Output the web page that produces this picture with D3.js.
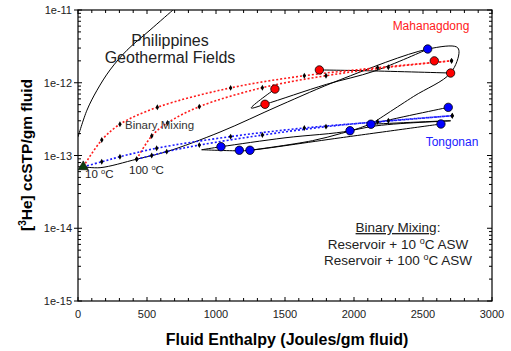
<!DOCTYPE html>
<html><head><meta charset="utf-8">
<script src="https://cdn.jsdelivr.net/npm/d3@7"></script>
<style>body{margin:0;background:#fff}svg{display:block}text{font-family:"Liberation Sans",Arial,sans-serif}</style>
</head><body><svg id="c" width="511" height="351"></svg>
<script>
// ---- data ----
const xTickLabels = [0,500,1000,1500,2000,2500,3000];
const yTickLabels = ["1e-15","1e-14","1e-13","1e-12","1e-11"];
const mahanagdong = [[1427,8.2e-13],[1355,5.06e-13],[1749,1.5e-12],[2582,2.0e-12],[2700,1.36e-12]];
const tongonan = [[2534,2.91e-12],[2683,4.59e-13],[2630,2.71e-13],[2123,2.69e-13],[1971,2.19e-13],[1036,1.32e-13],[1169,1.18e-13],[1246,1.18e-13]];
const asw10 = [38,7.0e-14];
const red10 = [[38,7e-14],[172,1.63e-13],[304,2.69e-13],[575,4.6e-13],[1106,8.5e-13],[1640,1.25e-12],[2171,1.61e-12],[2707,2.0e-12]];
const red100 = [[425,8.9e-14],[534,1.85e-13],[648,2.8e-13],[879,4.69e-13],[1336,8.55e-13],[1797,1.25e-12],[2249,1.63e-12],[2707,2.0e-12]];
const blue10 = [[38,7e-14],[172,8.2e-14],[304,9.6e-14],[570,1.26e-13],[1106,1.82e-13],[1640,2.39e-13],[2171,2.9e-13],[2712,3.52e-13]];
const blue100 = [[425,8.9e-14],[534,1.0e-13],[643,1.13e-13],[879,1.39e-13],[1336,1.91e-13],[1797,2.49e-13],[2249,3.0e-13],[2712,3.52e-13]];
const envelope = [[0,1.8e-13],[65,4.2e-13],[138,7.9e-13],[232,1.5e-12],[355,2.8e-12],[522,5.3e-12],[688,1e-11]];
const pathA = [[38,7e-14],[160,6.8e-14],[425,8.9e-14],[643,1.13e-13],[1029,2.1e-13],[1464,4.9e-13],[1900,1.1e-12],[2534,2.9e-12],[2744,3.1e-12],[2761,2.67e-12],[2700,1.36e-12],[2430,6.45e-13],[2123,2.69e-13]];
const pathB = [[1427,8.2e-13],[1255,4.5e-13],[1355,5.06e-13],[1800,9.5e-13],[2150,1.45e-12],[2534,2.9e-12]];
const pathC = [[1749,1.5e-12],[2100,1.46e-12],[2700,1.36e-12]];
const pathT1 = [[896,1.2e-13],[1036,1.32e-13],[1500,1.75e-13],[1971,2.19e-13],[2123,2.69e-13],[2683,4.59e-13]];
const pathT2 = [[896,1.2e-13],[1169,1.16e-13],[1246,1.18e-13],[1900,1.75e-13],[2630,2.71e-13]];
const pathT3 = [[1246,1.18e-13],[1700,1.6e-13],[2123,2.5e-13],[2700,3.0e-13],[2123,2.69e-13]];

// ---- layout ----
const svg = d3.select("#c");
const L=78,R=492,T=10,B=301;
const x = d3.scaleLinear().domain([0,3000]).range([L,R]);
const y = d3.scaleLog().domain([1e-15,1e-11]).range([B,T]);

// x ticks (bottom & top, inward)
const xt = d3.range(0,3001,100);
svg.append("g").selectAll("line").data(xt).join("line")
  .attr("x1",d=>x(d)).attr("x2",d=>x(d)).attr("y1",B).attr("y2",d=>B-(d%500===0?4:3)).attr("stroke","#000");
svg.append("g").selectAll("line").data(xt).join("line")
  .attr("x1",d=>x(d)).attr("x2",d=>x(d)).attr("y1",T).attr("y2",d=>T+(d%500===0?4:3)).attr("stroke","#000");
svg.append("g").selectAll("text").data(xTickLabels).join("text")
  .attr("x",d=>x(d)).attr("y",B+17).attr("text-anchor","middle").attr("font-size",11).attr("fill","#222").text(d=>d);
// y ticks
const minors=[];
for(let e=-15;e<-11;e++) for(let m=2;m<=9;m++) minors.push(m*Math.pow(10,e));
const majors=[1e-15,1e-14,1e-13,1e-12,1e-11];
svg.append("g").selectAll("line").data(minors).join("line")
  .attr("x1",L).attr("x2",L+3).attr("y1",d=>y(d)).attr("y2",d=>y(d)).attr("stroke","#000");
svg.append("g").selectAll("line").data(majors).join("line")
  .attr("x1",L-4).attr("x2",L+4).attr("y1",d=>y(d)).attr("y2",d=>y(d)).attr("stroke","#000");
svg.append("g").selectAll("line").data(minors).join("line")
  .attr("x1",R).attr("x2",R-3).attr("y1",d=>y(d)).attr("y2",d=>y(d)).attr("stroke","#000");
svg.append("g").selectAll("line").data(majors).join("line")
  .attr("x1",R).attr("x2",R-5).attr("y1",d=>y(d)).attr("y2",d=>y(d)).attr("stroke","#000");
svg.append("g").selectAll("text").data(majors).join("text")
  .attr("x",L-6).attr("y",d=>y(d)+4).attr("text-anchor","end").attr("font-size",11).attr("fill","#222")
  .text((d,i)=>yTickLabels[i]);
// frame
svg.append("rect").attr("x",L).attr("y",T).attr("width",R-L).attr("height",B-T).attr("fill","none").attr("stroke","#000").attr("stroke-width",1.2);

// clip
svg.append("clipPath").attr("id","clip").append("rect").attr("x",L).attr("y",T).attr("width",R-L).attr("height",B-T);
const g = svg.append("g").attr("clip-path","url(#clip)");

// black trajectories
const smooth = d3.line().x(d=>x(d[0])).y(d=>y(d[1])).curve(d3.curveCatmullRom.alpha(0.5));
[envelope,pathA,pathB,pathC,pathT1,pathT2,pathT3].forEach(p=>{
  g.append("path").attr("d",smooth(p)).attr("fill","none").attr("stroke","#000").attr("stroke-width",1);
});
// mixing lines
[[red10,"#ff1a1a"],[red100,"#ff1a1a"],[blue10,"#1a1aff"],[blue100,"#1a1aff"]].forEach(([p,c])=>{
  g.append("path").attr("d",smooth(p)).attr("fill","none").attr("stroke",c).attr("stroke-width",1.6).attr("stroke-dasharray","2,2");
});
// small markers
const marks = [].concat(red10.slice(1),red100,blue10.slice(1),blue100);
g.append("g").selectAll("path").data(marks).join("path")
  .attr("transform",d=>`translate(${x(d[0])},${y(d[1])})`)
  .attr("d",d3.symbol(d3.symbolDiamond,10)).attr("fill","#000");
// triangle
g.append("path").attr("transform",`translate(${x(asw10[0])},${y(asw10[1])})`)
  .attr("d",d3.symbol(d3.symbolTriangle,45)).attr("fill","#0b3d0b").attr("stroke","#000").attr("stroke-width",0.6);
// circles
g.append("g").selectAll("circle").data(mahanagdong).join("circle")
  .attr("cx",d=>x(d[0])).attr("cy",d=>y(d[1])).attr("r",4.2).attr("fill","#ff0000").attr("stroke","#000").attr("stroke-width",0.8);
g.append("g").selectAll("circle").data(tongonan).join("circle")
  .attr("cx",d=>x(d[0])).attr("cy",d=>y(d[1])).attr("r",4.2).attr("fill","#0000ff").attr("stroke","#000").attr("stroke-width",0.8);

// text
const t=(tx,ty,o={})=>{const el=svg.append("text").attr("x",tx).attr("y",ty).attr("font-size",o.size||11)
  .attr("fill",o.fill||"#222").attr("text-anchor",o.anchor||"start"); if(o.bold) el.attr("font-weight","bold"); return el;};
t(170,46,{size:16,anchor:"middle"}).text("Philippines");
t(170,63,{size:16,anchor:"middle"}).text("Geothermal Fields");
t(431,30,{size:12,anchor:"middle",fill:"#ff2020"}).text("Mahanagdong");
t(452,146,{size:12,anchor:"middle",fill:"#2020ff"}).text("Tongonan");
t(125,129,{size:11.5,fill:"#333"}).text("Binary Mixing");
let e=t(85,178,{size:11.5}); e.append("tspan").text("10 "); e.append("tspan").attr("dy",-4).attr("font-size",7.5).text("o"); e.append("tspan").attr("dy",4).text("C");
e=t(129,174,{size:11.5}); e.append("tspan").text("100 "); e.append("tspan").attr("dy",-4).attr("font-size",7.5).text("o"); e.append("tspan").attr("dy",4).text("C");
e=t(398,232,{size:13.5,anchor:"middle"}); e.append("tspan").attr("text-decoration","underline").text("Binary Mixing"); e.append("tspan").text(":");
e=t(398,249,{size:13.5,anchor:"middle"}); e.append("tspan").text("Reservoir + 10 "); e.append("tspan").attr("dy",-5).attr("font-size",9).text("o"); e.append("tspan").attr("dy",5).text("C ASW");
e=t(398,265,{size:13.5,anchor:"middle"}); e.append("tspan").text("Reservoir + 100 "); e.append("tspan").attr("dy",-5).attr("font-size",9).text("o"); e.append("tspan").attr("dy",5).text("C ASW");
// axis titles
t(287,345,{size:16,anchor:"middle",bold:true,fill:"#000"}).text("Fluid Enthalpy (Joules/gm fluid)");
e=svg.append("text").attr("transform","translate(32,155) rotate(-90)").attr("text-anchor","middle").attr("font-size",15.5).attr("font-weight","bold");
e.append("tspan").text("["); e.append("tspan").attr("dy",-6).attr("font-size",10).text("3"); e.append("tspan").attr("dy",6).text("He] ccSTP/gm fluid");
</script></body></html>
